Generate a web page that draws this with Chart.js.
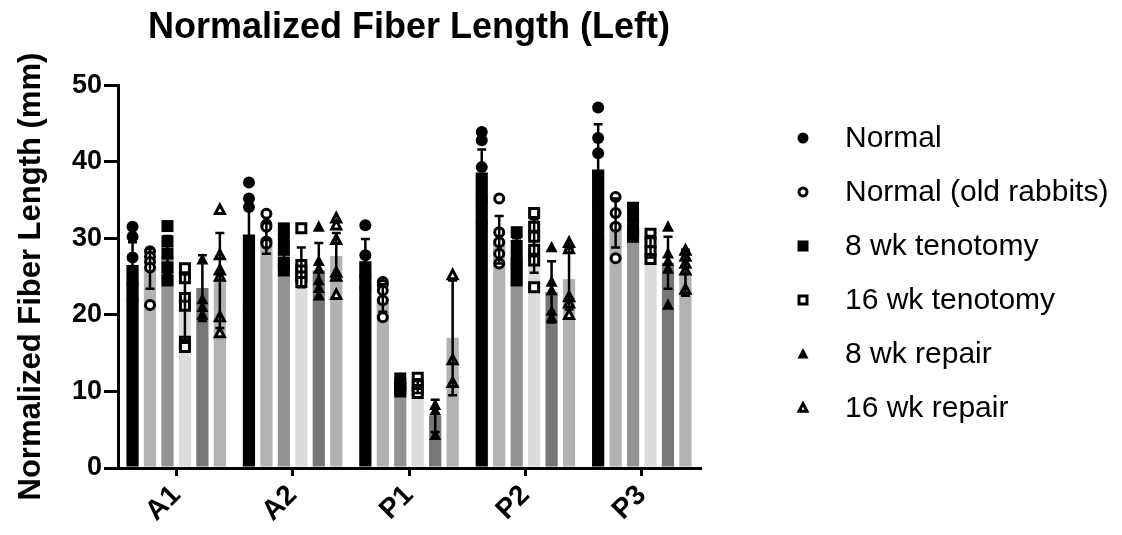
<!DOCTYPE html>
<html>
<head>
<meta charset="utf-8">
<script src="https://cdn.jsdelivr.net/npm/chart.js@4.4.1/dist/chart.umd.min.js"></script>
<style>
  html, body { margin: 0; padding: 0; background: #fff; }
  #wrap { width: 1122px; height: 535px; }
</style>
</head>
<body>
<div id="wrap"><canvas id="myChart" width="1122" height="535"></canvas></div>
<script>
// muscle regions
const regions = ['A1', 'A2', 'P1', 'P2', 'P3'];
const seriesNames = ['Normal', 'Normal (old rabbits)', '8 wk tenotomy', '16 wk tenotomy', '8 wk repair', '16 wk repair'];
const yTicks = [0, 10, 20, 30, 40, 50];

// bar heights (mean) per series
const normalMean = [26.5, 30.5, 27.0, 38.6, 39.0];
const oldMean    = [26.0, 30.0, 22.2, 29.8, 32.0];
const ten8Mean   = [27.8, 28.0, 10.6, 27.5, 31.5];
const ten16Mean  = [21.0, 26.2, 10.7, 29.0, 28.9];
const rep8Mean   = [23.5, 25.8, 6.8, 23.0, 26.8];
const rep16Mean  = [24.5, 27.7, 17.0, 24.7, 25.5];

// SD
const normalSd = [3.0, 3.4, 2.9, 3.0, 5.9];
const oldSd    = [2.6, 2.0, 1.8, 3.1, 3.2];
const ten8Sd   = [2.5, 2.3, 0.8, 2.5, 1.7];
const ten16Sd  = [4.3, 2.6, 0.9, 3.5, 1.4];
const rep8Sd   = [4.3, 3.6, 2.1, 4.0, 3.4];
const rep16Sd  = [6.2, 3.0, 7.5, 4.0, 3.0];

// individual animals
const normalPts = [[31.5, 30.2, 27.5, 24, 22], [37.3, 35.2, 34.1, 26, 21], [31.7, 27.8, 25, 23.5], [43.9, 42.8, 39.3, 35, 32], [47.1, 43.1, 41.1, 34, 30]];
const oldPts    = [[28.3, 27.6, 26.9, 26.2, 21.3], [33.2, 31.8, 31.5, 29.6, 29.3], [24.3, 23.9, 23.2, 21.9, 19.7], [35.2, 30.8, 29.5, 28, 26.7], [35.4, 33.3, 31.5, 27.4]];
const ten8Pts   = [[31.6, 29.6, 28, 26.2, 24.5], [31.3, 29.8, 28.5, 26.8, 25.8], [11.7, 11, 10.4, 10], [30.8, 29, 27.5, 26, 24.5], [34, 32.7, 31.2, 30.2]];
const ten16Pts  = [[26.1, 24.8, 22.2, 21.2, 16.5, 15.8], [31.3, 26.5, 25.8, 25, 24.3], [11.8, 10.8, 10.2, 9.8], [33.3, 31.5, 30.2, 28.5, 27.1, 23.6], [30.6, 29.5, 28.3, 27.3]];
const rep8Pts   = [[27.2, 22, 21, 20], [31.5, 27, 26, 24.5, 23.5, 22.5], [8.2, 7.5, 4.3], [28.8, 24.3, 23.2, 20.5, 19.6], [31.5, 28, 27, 26, 21.3]];
const rep16Pts  = [[33.7, 27.8, 25.8, 25, 19.7, 17.6], [32.6, 31.7, 29.8, 25.5, 25, 22.6], [25.2, 14.1, 11.1], [29.4, 28.6, 22.3, 21.5, 20], [28.4, 27.6, 26.7, 25.8, 23.3]];

const barColors = ['#000000', '#b2b2b2', '#939393', '#dcdcdc', '#777777', '#b2b2b2'];
const markers = ['circle', 'openCircle', 'square', 'openSquare', 'triangle', 'openTriangle'];

const means = [normalMean, oldMean, ten8Mean, ten16Mean, rep8Mean, rep16Mean];
const sds = [normalSd, oldSd, ten8Sd, ten16Sd, rep8Sd, rep16Sd];
const pts = [normalPts, oldPts, ten8Pts, ten16Pts, rep8Pts, rep16Pts];

const FONT = '"Liberation Sans", Arial, Helvetica, sans-serif';

function drawMarker(ctx, kind, x, y, s) {
  ctx.save();
  ctx.lineWidth = 3;
  ctx.strokeStyle = '#000';
  ctx.fillStyle = '#000';
  const h = s / 2;
  const q = kind.startsWith('open') ? h - 1.5 : h;
  ctx.beginPath();
  if (kind === 'circle' || kind === 'openCircle') {
    ctx.arc(x, y, q, 0, Math.PI * 2);
  } else if (kind === 'square' || kind === 'openSquare') {
    ctx.rect(x - q, y - q, q * 2, q * 2);
  } else {
    ctx.moveTo(x, y - q * 1.1);
    ctx.lineTo(x + q, y + q * 0.8);
    ctx.lineTo(x - q, y + q * 0.8);
    ctx.closePath();
  }
  if (kind.startsWith('open')) {
    ctx.fillStyle = '#fff';
    ctx.fill();
    ctx.lineJoin = 'miter';
    ctx.stroke();
  } else {
    ctx.fill();
  }
  ctx.restore();
}

const dotsPlugin = {
  id: 'dots',
  afterDatasetsDraw(chart) {
    const ctx = chart.ctx;
    const yScale = chart.scales.y;
    chart.data.datasets.forEach((ds, i) => {
      const meta = chart.getDatasetMeta(i);
      meta.data.forEach((bar, j) => {
        pts[i][j].forEach(v => drawMarker(ctx, markers[i], bar.x, yScale.getPixelForValue(v), 12));
        // error bar (mean +/- SD) on top of the points
        const top = yScale.getPixelForValue(means[i][j] + sds[i][j]);
        const bot = yScale.getPixelForValue(means[i][j] - sds[i][j]);
        ctx.save();
        ctx.strokeStyle = '#000';
        ctx.lineWidth = 2.5;
        ctx.beginPath();
        ctx.moveTo(bar.x, top); ctx.lineTo(bar.x, bot);
        ctx.moveTo(bar.x - 4.5, top); ctx.lineTo(bar.x + 4.5, top);
        ctx.moveTo(bar.x - 4.5, bot); ctx.lineTo(bar.x + 4.5, bot);
        ctx.stroke();
        ctx.restore();
      });
    });
  },
  afterDraw(chart) {
    // legend: black symbols, as in the figure
    const ctx = chart.ctx;
    ctx.save();
    ctx.font = '30px ' + FONT;
    ctx.fillStyle = '#000';
    ctx.textBaseline = 'middle';
    seriesNames.forEach((name, i) => {
      const y = 138 + i * 54;
      drawMarker(ctx, markers[i], 803, y, 11);
      ctx.fillText(name, 845, y + 1);
    });
    ctx.restore();
  }
};

const ctx = document.getElementById('myChart').getContext('2d');
new Chart(ctx, {
  type: 'bar',
  data: {
    labels: regions,
    datasets: seriesNames.map((name, i) => ({
      label: name,
      data: means[i],
      backgroundColor: barColors[i],
      borderWidth: 0,
      categoryPercentage: 0.9,
      barPercentage: 0.7
    }))
  },
  options: {
    responsive: false,
    animation: false,
    layout: { padding: { left: 8, right: 422, top: 0, bottom: 2 } },
    plugins: {
      legend: { display: false },
      tooltip: { enabled: false },
      title: {
        display: true,
        fullSize: false,
        text: 'Normalized Fiber Length (Left)',
        color: '#000',
        font: { family: FONT, size: 36, weight: 'bold' },
        padding: { top: 6, bottom: 36 }
      }
    },
    scales: {
      x: {
        afterFit(scale) { scale.height = 65; },
        grid: { display: true, drawOnChartArea: false, offset: false, color: '#000', lineWidth: 3, tickLength: 8 },
        border: { display: true, color: '#000', width: 3 },
        ticks: {
          color: '#000',
          minRotation: 45, maxRotation: 45,
          padding: 3,
          font: { family: FONT, size: 28, weight: 'bold' }
        }
      },
      y: {
        min: 0, max: 50,
        afterFit(scale) { scale.width = 110; },
        afterBuildTicks(scale) { scale.ticks = yTicks.map(v => ({ value: v })); },
        grid: { display: true, drawOnChartArea: false, color: '#000', lineWidth: 3, tickLength: 14 },
        border: { display: true, color: '#000', width: 3 },
        ticks: {
          color: '#000',
          padding: 2,
          font: { family: FONT, size: 27, weight: 'bold' }
        },
        title: {
          display: true,
          text: 'Normalized Fiber Length (mm)',
          color: '#000',
          padding: { top: 5, bottom: 2 },
          font: { family: FONT, size: 31, weight: 'bold' }
        }
      }
    }
  },
  plugins: [dotsPlugin]
});
</script>
</body>
</html>
